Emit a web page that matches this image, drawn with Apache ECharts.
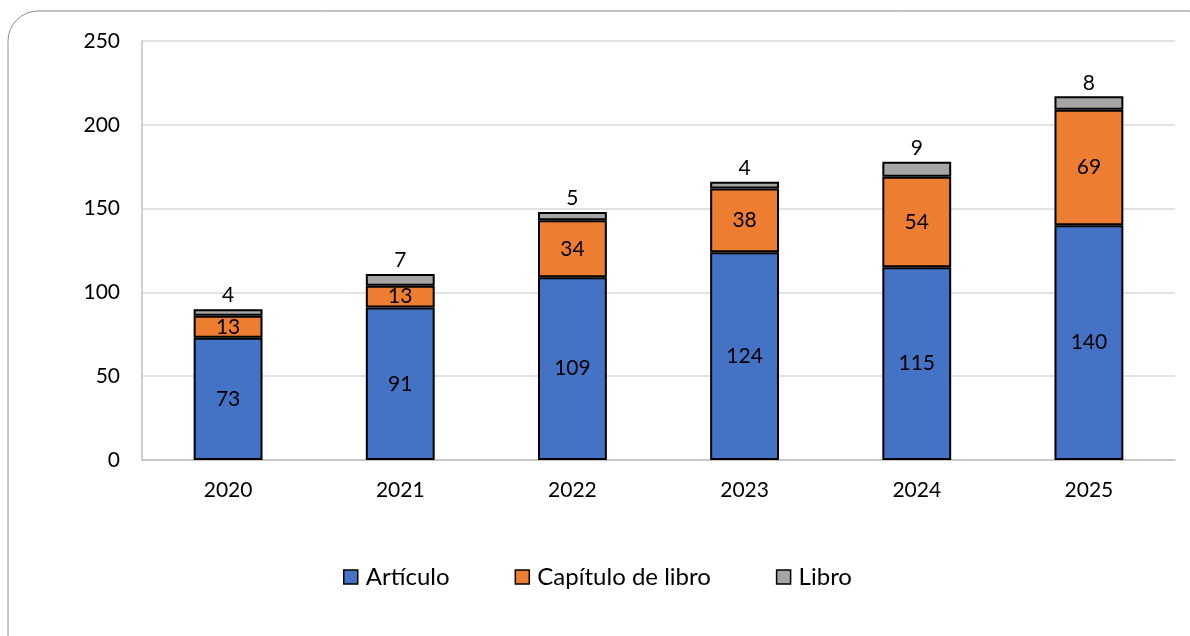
<!DOCTYPE html>
<html>
<head>
<meta charset="utf-8">
<script src="https://cdn.jsdelivr.net/npm/echarts@6/dist/echarts.min.js"></script>
<style>
  html, body { margin: 0; padding: 0; background: #fff; }
  #container { width: 1190px; height: 636px; }
</style>
</head>
<body>
<div id="container"></div>
<script>
var years = ['2020', '2021', '2022', '2023', '2024', '2025'];
var articulo = [73, 91, 109, 124, 115, 140];
var capitulo = [13, 13, 34, 38, 54, 69];
var libro = [4, 7, 5, 4, 9, 8];
var yTicks = [0, 50, 100, 150, 200, 250];

var fontName = 'Lato';

function barSeries(name, data, color, labelPos, dist) {
    return {
        name: name,
        type: 'bar',
        stack: 'total',
        barWidth: '40%',
        data: data,
        itemStyle: {color: color, borderColor: '#000', borderWidth: 2},
        label: {
            show: true,
            position: labelPos,
            color: '#000',
            fontSize: 21,
            fontFamily: fontName,
            distance: dist
        }
    };
}

var myChart = echarts.init(document.getElementById('container'));
var option = {
    animation: false,
    textStyle: {fontFamily: fontName},
    graphic: [{
        type: 'rect',
        shape: {x: 8, y: 11, width: 1210, height: 660, r: 30},
        style: {fill: 'none', stroke: '#8c8c8c', lineWidth: 1},
        silent: true
    }],
    grid: {left: 142, right: 15, top: 41, bottom: 176},
    legend: {
        bottom: 42,
        left: 338,
        itemWidth: 14,
        itemHeight: 14,
        itemGap: 65,
        icon: 'rect',
        itemStyle: {borderColor: '#000', borderWidth: 1.5},
        textStyle: {fontSize: 24, color: '#000', fontFamily: fontName, padding: [0, 0, 0, 3]},
        data: ['Artículo', 'Capítulo de libro', 'Libro']
    },
    xAxis: {
        type: 'category',
        data: years,
        axisLine: {lineStyle: {color: '#bfbfbf', width: 1.5}},
        axisTick: {show: false},
        axisLabel: {color: '#000', fontSize: 21, margin: 20, fontFamily: fontName}
    },
    yAxis: {
        type: 'value',
        min: yTicks[0],
        max: yTicks[yTicks.length - 1],
        interval: 50,
        axisLine: {show: true, lineStyle: {color: '#bfbfbf', width: 1.5}},
        axisTick: {show: false},
        splitLine: {lineStyle: {color: '#d9d9d9', width: 1.5}},
        axisLabel: {color: '#000', fontSize: 21, margin: 22, fontFamily: fontName}
    },
    series: [
        barSeries('Artículo', articulo, '#4472c4', 'inside', 5),
        barSeries('Capítulo de libro', capitulo, '#ed7d31', 'inside', 5),
        barSeries('Libro', libro, '#a5a5a5', 'top', 3)
    ]
};

myChart.setOption(option);
</script>
</body>
</html>
